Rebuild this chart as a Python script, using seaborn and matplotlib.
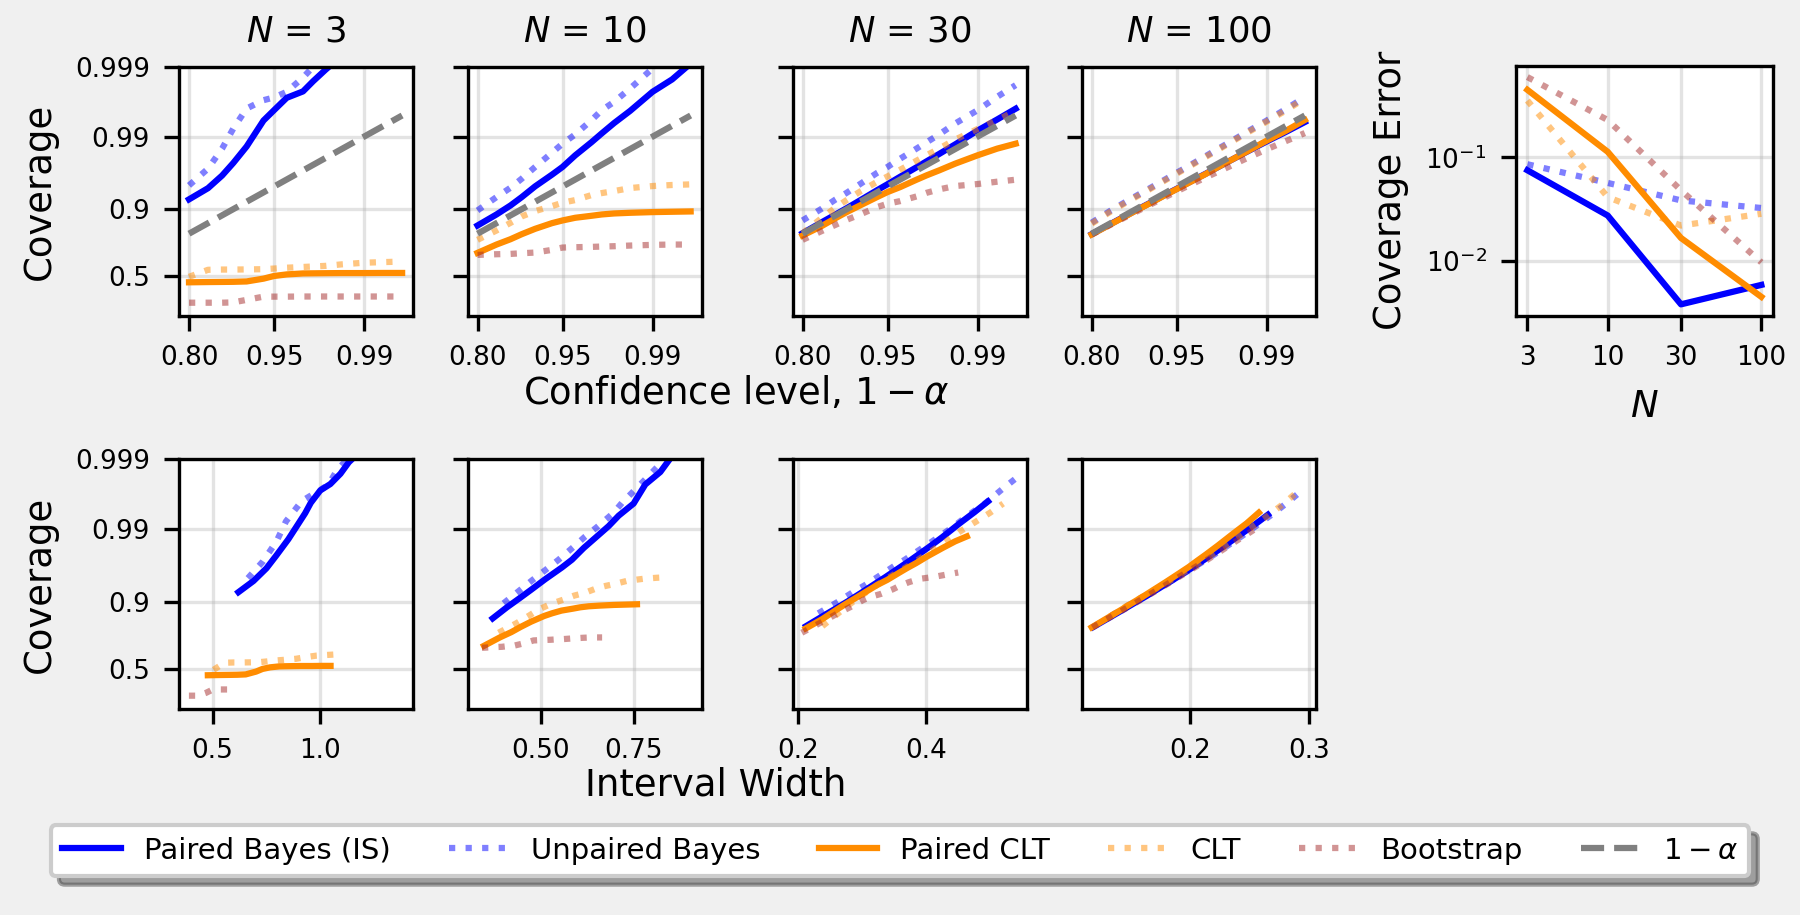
import matplotlib
matplotlib.use("Agg")
import matplotlib.pyplot as plt
from matplotlib.ticker import NullLocator
import seaborn as sns

# confidence levels 1 - alpha shared by every curve
levels = [0.80, 0.85, 0.88, 0.90, 0.92, 0.94, 0.95, 0.96, 0.97, 0.975, 0.98, 0.985, 0.99, 0.993, 0.995]
sample_sizes = [3, 10, 30, 100]

# empirical coverage, per method and N
cov_paired_bayes = {
    3: [0.9256, 0.9474, 0.9647, 0.9764, 0.9862, 0.9941, 0.9958, 0.99721, 0.99774, 0.99839, 0.9989, 0.9993, 0.9996, 0.9998, 0.9999],
    10: [0.8398, 0.8831, 0.9106, 0.9306, 0.9503, 0.9657, 0.9732, 0.9816, 0.988, 0.991, 0.9936, 0.99571, 0.99771, 0.99848, 0.9991],
    30: [0.8022, 0.8533, 0.8829, 0.9029, 0.9234, 0.9438, 0.9535, 0.9634, 0.9729, 0.9777, 0.9824, 0.9871, 0.9918, 0.9943, 0.996],
    100: [0.7974, 0.8468, 0.8765, 0.8966, 0.9161, 0.9365, 0.9463, 0.9565, 0.9667, 0.9721, 0.9775, 0.9829, 0.9883, 0.9915, 0.9938],
}
cov_unpaired_bayes = {
    3: [0.9518, 0.9717, 0.9852, 0.9923, 0.99603, 0.99698, 0.99724, 0.99771, 0.99857, 0.999, 0.9994, 0.9996, 0.9997, 0.9998, 0.9999],
    10: [0.8961, 0.9306, 0.9482, 0.961, 0.9732, 0.9831, 0.9874, 0.9907, 0.99417, 0.9958, 0.99681, 0.99795, 0.99894, 0.9994, 0.9996],
    30: [0.861, 0.901, 0.9254, 0.9393, 0.9538, 0.9675, 0.9732, 0.9795, 0.9852, 0.988, 0.9907, 0.99349, 0.9958, 0.9973, 0.99816],
    100: [0.852, 0.8957, 0.9184, 0.9328, 0.9468, 0.9608, 0.9677, 0.9744, 0.9811, 0.9845, 0.9877, 0.991, 0.9941, 0.996, 0.99727],
}
cov_paired_clt = {
    3: [0.445, 0.447, 0.448, 0.449, 0.452, 0.475, 0.497, 0.51, 0.518, 0.519, 0.52, 0.521, 0.521, 0.522, 0.522],
    10: [0.6795, 0.7364, 0.7693, 0.7974, 0.8245, 0.85, 0.861, 0.8713, 0.8785, 0.8831, 0.8865, 0.8887, 0.8909, 0.892, 0.893],
    30: [0.79, 0.8369, 0.8699, 0.891, 0.9106, 0.9306, 0.9406, 0.9492, 0.9597, 0.965, 0.9701, 0.9759, 0.9816, 0.9852, 0.9874],
    100: [0.7958, 0.8455, 0.8754, 0.8957, 0.9153, 0.9358, 0.9458, 0.9561, 0.9664, 0.9721, 0.9775, 0.983, 0.9886, 0.9918, 0.9942],
}
cov_clt = {
    3: [0.49, 0.548, 0.55, 0.55, 0.551, 0.553, 0.558, 0.565, 0.571, 0.575, 0.58, 0.592, 0.605, 0.61, 0.614],
    10: [0.7654, 0.8164, 0.8515, 0.8761, 0.894, 0.9088, 0.9175, 0.924, 0.9348, 0.9387, 0.9424, 0.9476, 0.9508, 0.9524, 0.9533],
    30: [0.8022, 0.8699, 0.9047, 0.9241, 0.9416, 0.9569, 0.9637, 0.9707, 0.9781, 0.9817, 0.9852, 0.989, 0.9922, 0.9942, 0.9957],
    100: [0.8481, 0.8928, 0.9161, 0.9309, 0.9453, 0.9597, 0.9668, 0.9737, 0.9806, 0.984, 0.9874, 0.9907, 0.9939, 0.9958, 0.99716],
}
cov_bootstrap = {
    3: [0.29, 0.29, 0.29, 0.292, 0.31, 0.333, 0.333, 0.333, 0.334, 0.334, 0.334, 0.334, 0.334, 0.334, 0.334],
    10: [0.6649, 0.6698, 0.6722, 0.677, 0.6819, 0.7008, 0.7167, 0.719, 0.7211, 0.7233, 0.7256, 0.7299, 0.7343, 0.7364, 0.7364],
    30: [0.7654, 0.8131, 0.8429, 0.8636, 0.8831, 0.9059, 0.915, 0.9216, 0.932, 0.9393, 0.9454, 0.9508, 0.9538, 0.9571, 0.9597],
    100: [0.7951, 0.8435, 0.8724, 0.8916, 0.9115, 0.9316, 0.9418, 0.9521, 0.9625, 0.9678, 0.9732, 0.979, 0.9849, 0.9885, 0.9911],
}

# mean interval width, per method and N
width_paired_bayes = {
    3: [0.62, 0.69, 0.75, 0.795, 0.852, 0.93, 0.956, 1.0, 1.047, 1.094, 1.133, 1.2, 1.27, 1.33, 1.38],
    10: [0.37, 0.4083, 0.4424, 0.473, 0.5117, 0.5567, 0.5836, 0.6151, 0.6556, 0.6826, 0.7095, 0.75, 0.7815, 0.8219, 0.8534],
    30: [0.2125, 0.2411, 0.2621, 0.2786, 0.2981, 0.3222, 0.3369, 0.3545, 0.3763, 0.3897, 0.4058, 0.4259, 0.4532, 0.4763, 0.4975],
    100: [0.1188, 0.1337, 0.1447, 0.1533, 0.1634, 0.1758, 0.1834, 0.1924, 0.2035, 0.2104, 0.2186, 0.229, 0.2428, 0.2545, 0.2653],
}
width_unpaired_bayes = {
    3: [0.664, 0.734, 0.797, 0.841, 0.914, 0.977, 1.0, 1.039, 1.078, 1.125, 1.17, 1.22, 1.28, 1.33, 1.37],
    10: [0.3993, 0.4442, 0.4757, 0.5072, 0.5477, 0.5926, 0.6196, 0.6511, 0.696, 0.7185, 0.741, 0.777, 0.8291, 0.87, 0.904],
    30: [0.2316, 0.2628, 0.2857, 0.3037, 0.3249, 0.3512, 0.3672, 0.3864, 0.4102, 0.4248, 0.4423, 0.4642, 0.494, 0.5192, 0.5423],
    100: [0.1344, 0.151, 0.1631, 0.1725, 0.1836, 0.1973, 0.2056, 0.2154, 0.2276, 0.2351, 0.244, 0.2552, 0.2702, 0.2829, 0.2945],
}
width_paired_clt = {
    3: [0.478, 0.537, 0.58, 0.614, 0.654, 0.702, 0.732, 0.767, 0.81, 0.837, 0.868, 0.908, 0.962, 1.007, 1.048],
    10: [0.3466, 0.3892, 0.4204, 0.4448, 0.4734, 0.5086, 0.53, 0.5553, 0.5868, 0.6061, 0.629, 0.6577, 0.6965, 0.7292, 0.759],
    30: [0.212, 0.2381, 0.2572, 0.2721, 0.2896, 0.3111, 0.3242, 0.3397, 0.3589, 0.3707, 0.3848, 0.4023, 0.426, 0.446, 0.4643],
    100: [0.1176, 0.1321, 0.1427, 0.151, 0.1607, 0.1727, 0.1799, 0.1885, 0.1992, 0.2058, 0.2136, 0.2233, 0.2365, 0.2476, 0.2577],
}
width_clt = {
    3: [0.505, 0.556, 0.598, 0.632, 0.672, 0.72, 0.75, 0.785, 0.829, 0.856, 0.888, 0.928, 0.982, 1.027, 1.068],
    10: [0.3858, 0.4333, 0.468, 0.4951, 0.527, 0.5661, 0.59, 0.6182, 0.6532, 0.6747, 0.7002, 0.7322, 0.7753, 0.8117, 0.845],
    30: [0.238, 0.2673, 0.2887, 0.3055, 0.3251, 0.3493, 0.364, 0.3814, 0.403, 0.4162, 0.432, 0.4517, 0.4783, 0.5008, 0.5212],
    100: [0.1328, 0.1491, 0.1611, 0.1704, 0.1814, 0.1948, 0.2031, 0.2128, 0.2248, 0.2322, 0.241, 0.252, 0.2669, 0.2794, 0.2908],
}
width_bootstrap = {
    3: [0.39, 0.405, 0.42, 0.435, 0.47, 0.5, 0.51, 0.52, 0.535, 0.54, 0.548, 0.555, 0.565, 0.572, 0.578],
    10: [0.341, 0.375, 0.395, 0.41, 0.43, 0.46, 0.48, 0.5, 0.525, 0.54, 0.56, 0.585, 0.615, 0.64, 0.665],
    30: [0.2058, 0.2312, 0.2497, 0.2642, 0.2812, 0.3021, 0.3148, 0.3298, 0.3485, 0.36, 0.3736, 0.3906, 0.4137, 0.4331, 0.4508],
    100: [0.1182, 0.1327, 0.1434, 0.1517, 0.1614, 0.1734, 0.1807, 0.1893, 0.2001, 0.2067, 0.2145, 0.2243, 0.2375, 0.2486, 0.2588],
}

# coverage error vs N
err_paired_bayes = [0.0752, 0.0274, 0.00378, 0.00583]
err_unpaired_bayes = [0.086, 0.0567, 0.0384, 0.0324]
err_paired_clt = [0.452, 0.1135, 0.0166, 0.00447]
err_clt = [0.356, 0.0413, 0.0219, 0.0285]
err_bootstrap = [0.601, 0.2306, 0.0481, 0.00964]

methods = ["Paired Bayes (IS)", "Unpaired Bayes", "Paired CLT", "CLT", "Bootstrap"]
coverages = [cov_paired_bayes, cov_unpaired_bayes, cov_paired_clt, cov_clt, cov_bootstrap]
widths = [width_paired_bayes, width_unpaired_bayes, width_paired_clt, width_clt, width_bootstrap]
errors = [err_paired_bayes, err_unpaired_bayes, err_paired_clt, err_clt, err_bootstrap]
styles = [
    dict(color="blue", linestyle="-", alpha=1.0),
    dict(color="blue", linestyle=":", alpha=0.5),
    dict(color="darkorange", linestyle="-", alpha=1.0),
    dict(color="darkorange", linestyle=":", alpha=0.5),
    dict(color="brown", linestyle=":", alpha=0.5),
]

width_xlims = {3: (0.344, 1.431), 10: (0.302, 0.933), 30: (0.1912, 0.5578), 100: (0.1092, 0.3054)}
width_ticks = {3: [0.5, 1.0], 10: [0.5, 0.75], 30: [0.2, 0.4], 100: [0.2, 0.3]}

TICK = 6.3
LABEL = 8.9

fig = plt.figure(figsize=(6, 3.05), dpi=300, facecolor="#f0f0f0")
W, H = 1800.0, 915.0


def px_axes(left, top, right, bottom):
    return fig.add_axes([left / W, 1 - bottom / H, (right - left) / W, (bottom - top) / H])


col_left = [179.0, 467.5, 792.5, 1081.7]
col_w = 234.0

cov_ticks = [0.5, 0.9, 0.99, 0.999]
cov_labels = ["0.5", "0.9", "0.99", "0.999"]


def style_axis(ax):
    ax.set_facecolor("white")
    ax.grid(True, which="major", color="#b0b0b0", alpha=0.35, linewidth=0.8)
    ax.tick_params(labelsize=TICK, colors="black")


legend_handles = []
for j, n in enumerate(sample_sizes):
    # top row: coverage vs confidence level
    ax = px_axes(col_left[j], 66.7, col_left[j] + col_w, 315.7)
    for k in range(len(methods)):
        sns.lineplot(x=levels, y=coverages[k][n], ax=ax, linewidth=1.5,
                     sort=False, estimator=None, legend=False, **styles[k])
    sns.lineplot(x=levels, y=levels, ax=ax, color="gray", linestyle="--",
                 linewidth=1.5, sort=False, estimator=None, legend=False)
    if j == 0:
        legend_handles = list(ax.get_lines())
    ax.set_xscale("logit")
    ax.set_yscale("logit")
    ax.set_xlim(0.769, 0.9959)
    ax.set_ylim(0.21, 0.999)
    ax.set_xticks([0.8, 0.95, 0.99], ["0.80", "0.95", "0.99"])
    ax.set_yticks(cov_ticks, cov_labels if j == 0 else [])
    ax.xaxis.set_minor_locator(NullLocator())
    ax.yaxis.set_minor_locator(NullLocator())
    style_axis(ax)
    ax.set_title(rf"$N$ = {n}", fontsize=8.5)
    if j == 0:
        ax.set_ylabel("Coverage", fontsize=LABEL)

    # bottom row: coverage vs interval width
    ax2 = px_axes(col_left[j], 459.3, col_left[j] + col_w, 708.7)
    for k in range(len(methods)):
        sns.lineplot(x=widths[k][n], y=coverages[k][n], ax=ax2, linewidth=1.5,
                     sort=False, estimator=None, legend=False, **styles[k])
    ax2.set_yscale("logit")
    ax2.set_ylim(0.21, 0.999)
    ax2.set_xlim(*width_xlims[n])
    ax2.set_xticks(width_ticks[n])
    ax2.set_yticks(cov_ticks, cov_labels if j == 0 else [])
    ax2.yaxis.set_minor_locator(NullLocator())
    style_axis(ax2)
    if j == 0:
        ax2.set_ylabel("Coverage", fontsize=LABEL)

# coverage error panel
ax3 = px_axes(1515.7, 65.7, 1773.0, 315.7)
for k in range(len(methods)):
    sns.lineplot(x=sample_sizes, y=errors[k], ax=ax3, linewidth=1.5,
                 sort=False, estimator=None, legend=False, **styles[k])
ax3.set_xscale("log")
ax3.set_yscale("log")
ax3.set_xticks(sample_sizes, [str(n) for n in sample_sizes])
ax3.xaxis.set_minor_locator(NullLocator())
ax3.yaxis.set_minor_locator(NullLocator())
style_axis(ax3)
ax3.set_xlabel(r"$N$", fontsize=LABEL)
ax3.set_ylabel("Coverage Error", fontsize=LABEL)

fig.text(736 / W, 1 - 404 / H, r"Confidence level, $1-\alpha$", ha="center", va="baseline", fontsize=LABEL)
fig.text(716 / W, 1 - 795 / H, "Interval Width", ha="center", va="baseline", fontsize=LABEL)

labels = methods + [r"$1-\alpha$"]
leg = fig.legend(legend_handles, labels, loc="upper center", bbox_to_anchor=(0.5, 1 - 825 / H),
                 borderaxespad=0, ncol=6, fancybox=True, shadow=True, framealpha=1,
                 fontsize=7.0)
leg.get_frame().set_linewidth(1.0)

fig.savefig("out.png", dpi=300, facecolor=fig.get_facecolor())
